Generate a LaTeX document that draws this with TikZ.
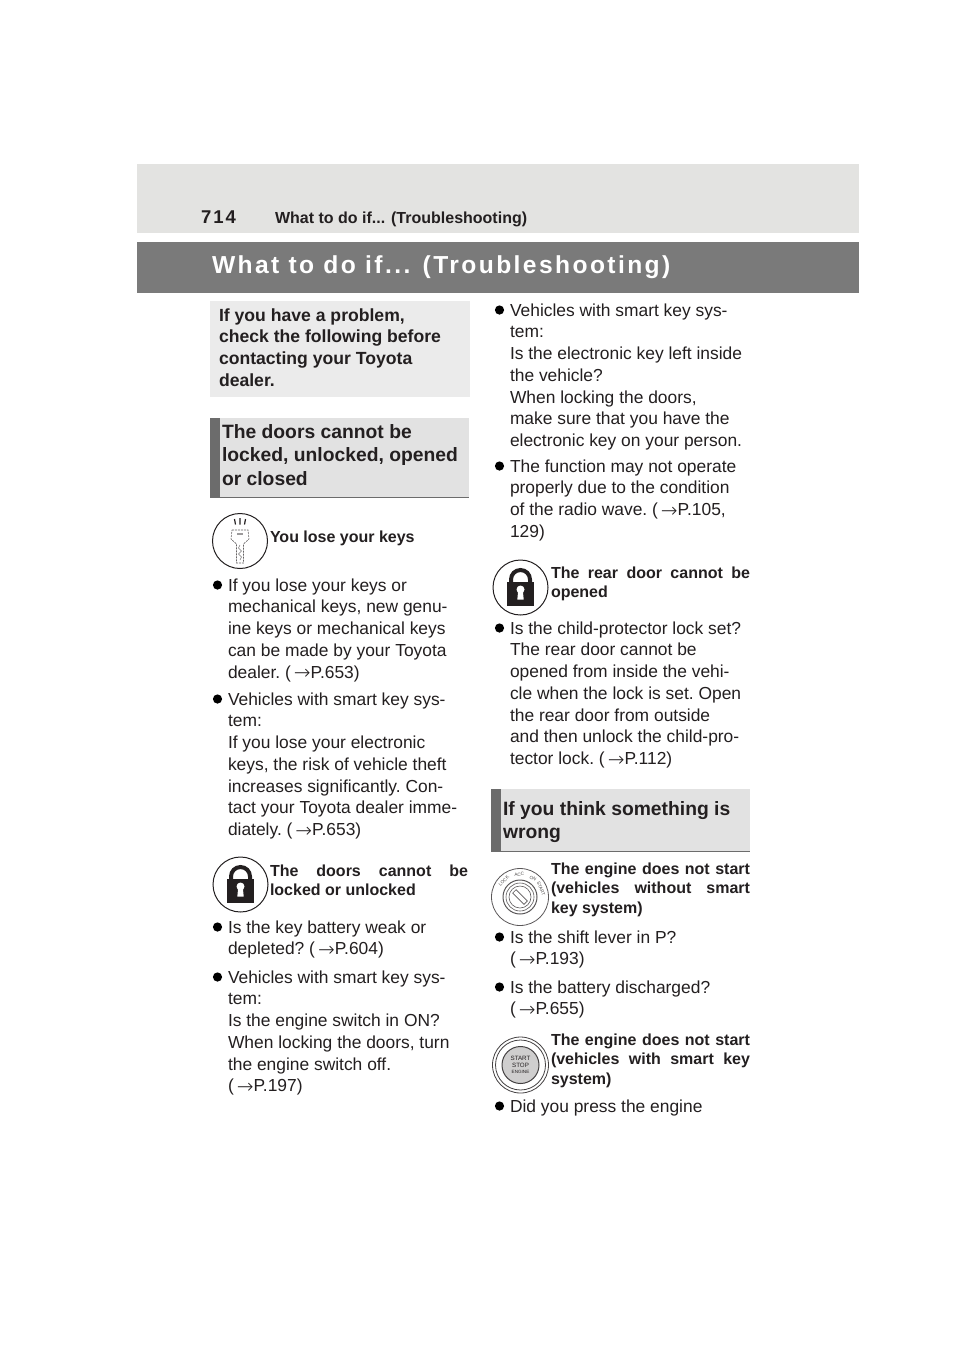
\documentclass[tikz,border=0pt]{standalone}
\usepackage{fontspec}
\setmainfont{Liberation Sans}
\newfontfamily\arrowfont{DejaVu Sans ExtraLight}
\usetikzlibrary{calc}
\definecolor{bandgray}{HTML}{7A7A7A}
\definecolor{topgray}{HTML}{E3E3E1}
\definecolor{introgray}{HTML}{EBEBEB}
\definecolor{headgray}{HTML}{E2E2E2}
\definecolor{bargray}{HTML}{6C6C6C}
\definecolor{inkk}{HTML}{231F20}
\tikzset{
  txt/.style={inner sep=0pt,outer sep=0pt,anchor=north west,align=left,text=inkk},
  body/.style={txt,font=\fontsize{17.4pt}{21.75pt}\selectfont\frenchspacing},
  small/.style={txt,font=\bfseries\fontsize{16pt}{19.5pt}\selectfont\frenchspacing},
  intro/.style={txt,font=\bfseries\fontsize{17.6pt}{21.75pt}\selectfont},
  head/.style={txt,font=\bfseries\fontsize{19.3pt}{23.6pt}\selectfont},
  ring/.style={draw=inkk,line width=1pt,fill=white},
  dot/.style={fill=black,draw=none},
  lockbody/.style={fill=inkk,draw=none},
  thinring/.style={draw=inkk!75,line width=.6pt},
  keyline/.style={draw=inkk!70,line width=.6pt,dash pattern=on 2pt off 1pt}
}
% \para{name}{x}{baseline}{text}
\newcommand{\para}[5][body]{\node[#1] (#2) at (#3,#4) [yshift=16pt] {\rule{0pt}{16pt}#5};}
\newcommand{\bul}[3]{\fill[dot] (#2,#3) circle (4.6) coordinate (#1);}
\newcommand{\ar}{\kern3pt\raisebox{-1.5pt}{\arrowfont\fontsize{20pt}{20pt}\selectfont →}\kern0pt}
\newcommand{\J}[2]{\makebox[#1pt][s]{#2}}
\newcommand{\lockicon}[3]{%
  \draw[ring] (#2,#3) circle (27.5) coordinate (#1);
  \begin{scope}[shift={(#2,#3)}]
    \draw[inkk,line width=4pt] (-9.5,-4) -- (-9.5,-8) arc (180:360:9.5 and 9.5) -- (9.5,-4);
    \fill[lockbody] (-14,-6) rectangle (13.5,18.5);
    \fill[white] (0,2) circle (4);
    \fill[white] (-2.2,2) -- (2.2,2) -- (3.2,12) -- (-3.2,12) -- cycle;
  \end{scope}}
\begin{document}
\begin{tikzpicture}[x=1pt,y=-1pt]
\useasboundingbox (0,0) rectangle (960,1358);
\fill[white] (0,0) rectangle (960,1358);
% header bands
\fill[topgray] (137,164) rectangle (859,233);
\fill[bandgray] (137,242) rectangle (859,293);
\node[txt,font=\bfseries\fontsize{18.5pt}{20pt}\selectfont\addfontfeature{LetterSpace=11}] (pagenum) at (201,223) [yshift=16pt] {\rule{0pt}{16pt}714};
\node[txt,font=\bfseries\fontsize{16pt}{18pt}\selectfont] (runhead) at (275,223) [yshift=16pt] {\rule{0pt}{16pt}What to do if... (Troubleshooting)};
\node[txt,text=white,font=\bfseries\fontsize{24.6pt}{28pt}\selectfont\addfontfeature{LetterSpace=9.8}] (title) at (212,273) [yshift=24pt] {\rule{0pt}{24pt}What to do if... (Troubleshooting)};
% intro box
\fill[introgray] (210,301) rectangle (470,397);
\para[intro]{introtext}{219}{321}{If you have a problem,\\check the following before\\contacting your Toyota\\dealer.}
% section head left
\fill[headgray] (210,418) rectangle (469,497);
\fill[bargray] (210,418) rectangle (220,497);
\draw[bargray,line width=1pt] (210,497) -- (469,497);
\para[head]{headleft}{222}{438}{The doors cannot be\\locked, unlocked, opened\\or closed}
% key icon
\draw[ring] (240,541) circle (27.5) coordinate (keyicon);
\begin{scope}[shift={(240,541)}]
  \draw[inkk,line width=1.2pt] (-5.5,-22) -- (-4.5,-16.5) (0,-23) -- (0,-16.5) (5.5,-22) -- (4.5,-16.5);
  \draw[keyline] (-8,-11) -- (8,-11) -- (9,-2) -- (3.5,3) -- (3.5,22) -- (-3.5,22) -- (-3.5,3) -- (-9,-2) -- cycle;
  \fill[inkk!45] (-3,-8) rectangle (3,-6);
  \draw[inkk!60,line width=.5pt] (0,4) -- (-1.5,7) -- (1.5,10) -- (-1.5,13) -- (1.5,16) -- (0,19);
\end{scope}
\para[small]{h1}{270}{542}{You lose your keys}
\bul{b1}{217.5}{585}
\para{p1}{228}{591}{If you lose your keys or\\mechanical keys, new genu-\\ine keys or mechanical keys\\can be made by your Toyota\\dealer. (\ar P.653)}
\bul{b2}{217.5}{699}
\para{p2}{228}{705}{Vehicles with smart key sys-\\tem:\\If you lose your electronic\\keys, the risk of vehicle theft\\increases significantly. Con-\\tact your Toyota dealer imme-\\diately. (\ar P.653)}
\lockicon{lockone}{240.5}{884.5}
\para[small]{h2}{270}{876}{\J{198}{The doors cannot be}\\locked or unlocked}
\bul{b3}{217.5}{927}
\para{p3}{228}{933}{Is the key battery weak or\\depleted? (\ar P.604)}
\bul{b4}{217.5}{977}
\para{p4}{228}{983}{Vehicles with smart key sys-\\tem:\\Is the engine switch in ON?\\When locking the doors, turn\\the engine switch off.\\(\ar P.197)}
% right column
\bul{b5}{499.5}{310}
\para{p5}{510}{316}{Vehicles with smart key sys-\\tem:\\Is the electronic key left inside\\the vehicle?\\When locking the doors,\\make sure that you have the\\electronic key on your person.}
\bul{b6}{499.5}{466}
\para{p6}{510}{472}{The function may not operate\\properly due to the condition\\of the radio wave. (\ar P.105,\\129)}
\lockicon{locktwo}{520.5}{587.5}
\para[small]{h3}{551}{578}{\J{199}{The rear door cannot be}\\opened}
\bul{b7}{499.5}{628}
\para{p7}{510}{634}{Is the child-protector lock set?\\The rear door cannot be\\opened from inside the vehi-\\cle when the lock is set. Open\\the rear door from outside\\and then unlock the child-pro-\\tector lock. (\ar P.112)}
% section head right
\fill[headgray] (491,789) rectangle (750,851);
\fill[bargray] (491,789) rectangle (501,851);
\draw[bargray,line width=1pt] (491,851) -- (750,851);
\para[head]{headright}{503}{815}{If you think something is\\wrong}
% ignition icon
\begin{scope}[shift={(520,897)}]
  \coordinate (ignition) at (0,0);
  \draw[thinring,line width=.8pt] (0,0) circle (28.5);
  \draw[thinring,line width=1pt] (0,0) circle (17);
  \draw[thinring] (0,0) circle (14);
  \draw[thinring] (0,0) circle (11);
  \draw[thinring,rotate=-45] (-8,-2.4) rectangle (8,2.4);
  \foreach \nm/\lab/\ang/\rot in {il/LOCK/135/45,ia/ACC/92/5,io/ON/55/-30,is/START/22/-68}
    \node[inner sep=0pt,text=inkk!80,font=\fontsize{4.6pt}{5pt}\selectfont,rotate=\rot] (\nm) at ({-\ang}:22.7) {\lab};
\end{scope}
\para[small]{h4}{551}{874}{\J{199}{The engine does not start}\\\J{199}{(vehicles without smart}\\key system)}
\bul{b8}{499.5}{937}
\para{p8}{510}{943}{Is the shift lever in P?\\(\ar P.193)}
\bul{b9}{499.5}{987}
\para{p9}{510}{993}{Is the battery discharged?\\(\ar P.655)}
% start icon
\begin{scope}[shift={(520.5,1065)}]
  \coordinate (startstop) at (0,0);
  \draw[inkk!85,line width=.8pt] (0,0) circle (28);
  \draw[inkk!85,line width=.8pt] (0,0) circle (25);
  \draw[inkk!85,fill=inkk!22,line width=1pt] (0,0) circle (18.5);
  \node[inner sep=0pt,align=center,text=inkk,font=\fontsize{6.2pt}{6.6pt}\selectfont] (starttext) at (0,0) {START\\STOP\\{\fontsize{4.6pt}{5.6pt}\selectfont ENGINE}};
\end{scope}
\para[small]{h5}{551}{1045}{\J{199}{The engine does not start}\\\J{199}{(vehicles with smart key}\\system)}
\bul{b10}{499.5}{1106}
\para{p10}{510}{1112}{Did you press the engine}
\end{tikzpicture}
\end{document}
